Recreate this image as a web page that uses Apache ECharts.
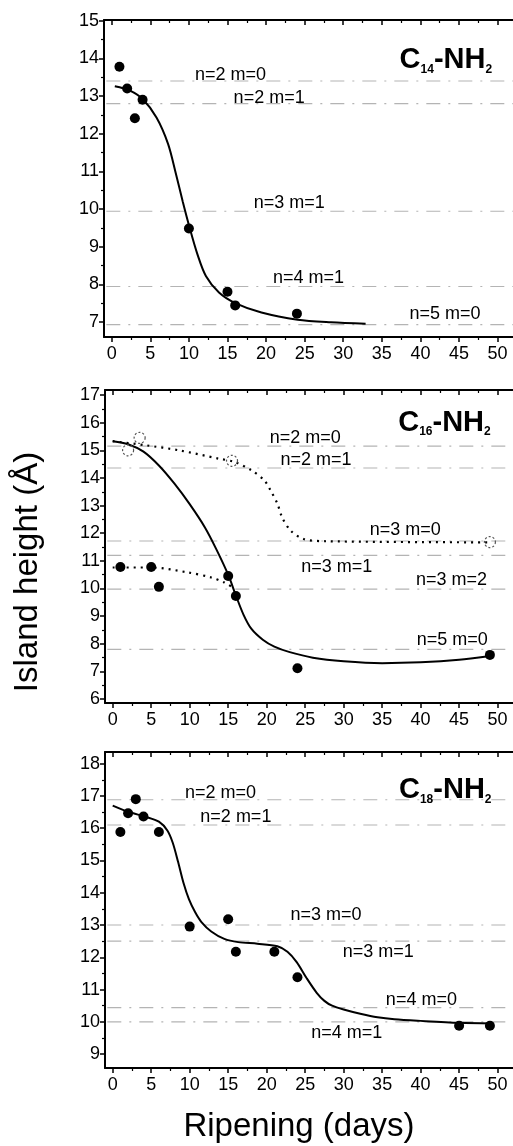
<!DOCTYPE html>
<html><head><meta charset="utf-8">
<script src="https://cdn.jsdelivr.net/npm/echarts@6/dist/echarts.min.js"></script>
<style>html,body{margin:0;padding:0;background:#fff}#c{width:513px;height:1146px}</style>
</head><body><div id="c"></div>
<script>
// ---------------- DATA ----------------
const xTickValues = [0,5,10,15,20,25,30,35,40,45,50];
const xMinorValues = [2.5,7.5,12.5,17.5,22.5,27.5,32.5,37.5,42.5,47.5];

// Panel 1 : C14-NH2
const p1Ticks = [7,8,9,10,11,12,13,14,15];
const p1Points = [[1,13.78],[2,13.2],[3,12.41],[4,12.9],[10,9.48],[15,7.8],[16,7.44],[24,7.22]];
const p1Fit = [[0.4,13.26],[2.3,13.15],[4,12.92],[5.8,12.43],[7.3,11.73],[8.3,10.95],[9.2,10.2],[10.1,9.5],[11.1,8.8],[12.2,8.22],[13.9,7.78],[16,7.5],[19.4,7.25],[24.1,7.06],[28.4,6.99],[32.9,6.95]];
const p1Levels = [13.4,12.8,9.94,7.94,6.93];
const p1LevelNames = ['n=2 m=0','n=2 m=1','n=3 m=1','n=4 m=1','n=5 m=0'];

// Panel 2 : C16-NH2
const p2Ticks = [6,7,8,9,10,11,12,13,14,15,16,17];
const p2Points = [[1,10.78],[5,10.78],[6,10.06],[15,10.45],[16,9.73],[24,7.12],[49,7.6]];
const p2Open = [[2,15.0],[3.5,15.45],[15.5,14.62],[49,11.68]];
const p2Fit = [[0,15.33],[2,15.22],[4,14.95],[6,14.45],[8,13.8],[10,13.05],[12,12.2],[13.5,11.4],[15,10.5],[16,9.75],[17,9.05],[18,8.55],[19.5,8.15],[21,7.9],[23,7.7],[26,7.5],[30,7.37],[35,7.3],[40,7.33],[45,7.42],[48.8,7.55]];
const p2FitUpper = [[0,15.33],[4.3,15.18],[8.6,15.0],[13.7,14.7],[15.8,14.58],[18,14.28],[19.7,13.91],[20.5,13.55],[21.4,13.07],[22,12.58],[23.1,12.1],[24.8,11.79],[27.8,11.71],[48.7,11.67]];
const p2FitLower = [[0,10.76],[5,10.76],[9.8,10.58],[12.8,10.4],[14.5,10.22],[15.6,10.04]];
const p2Levels = [15.15,14.36,11.72,11.2,9.98,7.8];
const p2LevelNames = ['n=2 m=0','n=2 m=1','n=3 m=0','n=3 m=1','n=3 m=2','n=5 m=0'];

// Panel 3 : C18-NH2
const p3Ticks = [9,10,11,12,13,14,15,16,17,18];
const p3Points = [[1,15.88],[2,16.46],[3,16.9],[4,16.36],[6,15.88],[10,12.95],[15,13.18],[16,12.17],[21,12.17],[24,11.38],[45,9.88],[49,9.88]];
const p3Fit = [[0,16.7],[2.1,16.5],[4.3,16.35],[6,16.2],[7.1,15.93],[7.8,15.55],[8.5,14.95],[9.2,14.3],[9.9,13.8],[10.7,13.4],[11.5,13.1],[12.8,12.8],[14.5,12.57],[16.3,12.47],[18.8,12.42],[21.4,12.34],[22.7,12.17],[23.9,11.85],[25.2,11.35],[26.5,10.9],[27.5,10.65],[28.5,10.5],[30,10.38],[32.3,10.24],[34.4,10.14],[36.6,10.08],[40,10.03],[45,9.97],[49.3,9.95]];
const p3Levels = [16.88,16.1,13.0,12.5,10.44,10.0];
const p3LevelNames = ['n=2 m=0','n=2 m=1','n=3 m=0','n=3 m=1','n=4 m=0','n=4 m=1'];

const panelTitles = [['14','2'],['16','2'],['18','2']];
const yTitle = 'Island height (Å)';
const xTitle = 'Ripening (days)';

// ---------------- LAYOUT ----------------
const FONT = '"Liberation Sans", Arial, Helvetica, sans-serif';
const X_MIN = -1, X_MAX = 52;
const panels = [
  {grid:{left:104, top:20, width:415, height:317}, yMin:6.6, yMax:15.02, ticks:p1Ticks,
   points:p1Points, fits:[{d:p1Fit,dot:false}], open:null, levels:p1Levels, names:p1LevelNames,
   labelPos:[[15.4,13.56],[20.4,12.94],[23.0,10.15],[25.5,8.16],[43.2,7.22]], titlePos:[43.3,13.95]},
  {grid:{left:105, top:390, width:414, height:313}, yMin:5.86, yMax:17.18, ticks:p2Ticks,
   points:p2Points, fits:[{d:p2Fit,dot:false},{d:p2FitUpper,dot:true},{d:p2FitLower,dot:true}], open:p2Open, levels:p2Levels, names:p2LevelNames,
   labelPos:[[25.0,15.45],[26.4,14.65],[38.0,12.12],[29.1,10.78],[44.0,10.31],[44.1,8.15]], titlePos:[43.1,15.99]},
  {grid:{left:105, top:752, width:414, height:316}, yMin:8.57, yMax:18.36, ticks:p3Ticks,
   points:p3Points, fits:[{d:p3Fit,dot:false}], open:null, levels:p3Levels, names:p3LevelNames,
   labelPos:[[14.0,17.08],[16.0,16.34],[27.7,13.30],[34.5,12.16],[40.1,10.67],[30.4,9.65]], titlePos:[43.2,17.17]}
];

const grids=[], xAxes=[], yAxes=[], series=[];
panels.forEach((p,i)=>{
  grids.push(p.grid);
  const xi = xAxes.length, yi = yAxes.length;
  const base = {gridIndex:i, type:'value', min:X_MIN, max:X_MAX, splitLine:{show:false}};
  xAxes.push(Object.assign({}, base, {position:'bottom',
    axisLine:{show:true, onZero:false, lineStyle:{color:'#000', width:2}},
    axisTick:{show:true, inside:false, length:5, customValues:xTickValues, lineStyle:{color:'#000', width:1.5}},
    axisLabel:{show:true, customValues:xTickValues, fontSize:18, color:'#000', fontFamily:FONT, margin:8}}));
  xAxes.push(Object.assign({}, base, {position:'bottom',
    axisLine:{show:false, onZero:false},
    axisTick:{show:true, inside:false, length:3, customValues:xMinorValues, lineStyle:{color:'#000', width:1.2}},
    axisLabel:{show:false}}));
  xAxes.push(Object.assign({}, base, {position:'top',
    axisLine:{show:true, onZero:false, lineStyle:{color:'#000', width:1.8}},
    axisTick:{show:true, inside:true, length:5, customValues:xTickValues, lineStyle:{color:'#000', width:1.5}},
    axisLabel:{show:false}}));
  xAxes.push(Object.assign({}, base, {position:'top',
    axisLine:{show:false, onZero:false},
    axisTick:{show:true, inside:true, length:3, customValues:xMinorValues, lineStyle:{color:'#000', width:1.2}},
    axisLabel:{show:false}}));
  const halves = p.ticks.slice(0,-1).map(v=>v+0.5);
  if (p.yMin < p.ticks[0]-0.5) halves.unshift(p.ticks[0]-0.5);
  if (p.yMax > p.ticks[p.ticks.length-1]+0.5) halves.push(p.ticks[p.ticks.length-1]+0.5);
  const ybase = {gridIndex:i, type:'value', min:p.yMin, max:p.yMax, splitLine:{show:false}, position:'left'};
  yAxes.push(Object.assign({}, ybase, {
    axisLine:{show:true, onZero:false, lineStyle:{color:'#000', width:2}},
    axisTick:{show:true, inside:false, length:5, customValues:p.ticks, lineStyle:{color:'#000', width:1.5}},
    axisLabel:{show:true, customValues:p.ticks, fontSize:18, color:'#000', fontFamily:FONT, margin:5}}));
  yAxes.push(Object.assign({}, ybase, {
    axisLine:{show:false, onZero:false},
    axisTick:{show:true, inside:false, length:3, customValues:halves, lineStyle:{color:'#000', width:1.2}},
    axisLabel:{show:false}}));

  // level reference lines
  p.levels.forEach(v=>{
    series.push({type:'line', xAxisIndex:xi, yAxisIndex:yi, data:[[X_MIN+0.3,v],[X_MAX,v]], symbol:'none', silent:true,
      lineStyle:{color:'#b4b4b4', width:1.1, type:[14,8,2,8]}, z:1});
  });
  // fit curves
  p.fits.forEach(f=>{
    series.push({type:'line', xAxisIndex:xi, yAxisIndex:yi, data:f.d, symbol:'none', smooth:0.3, clip:false,
      lineStyle:{color:'#000', width:f.dot?2.2:2, type:f.dot?[2,5]:'solid'}, z:3});
  });
  // open points
  if (p.open) series.push({type:'scatter', xAxisIndex:xi, yAxisIndex:yi, data:p.open, symbol:'circle', symbolSize:11,
      itemStyle:{color:'rgba(255,255,255,0)', borderColor:'#555', borderWidth:1.2, borderType:[2,2], opacity:1}, z:4});
  // filled points
  series.push({type:'scatter', xAxisIndex:xi, yAxisIndex:yi, data:p.points, symbol:'circle', symbolSize:10,
      itemStyle:{color:'#000', opacity:1}, z:5});
  // level labels
  series.push({type:'scatter', xAxisIndex:xi, yAxisIndex:yi, symbolSize:0, silent:true, z:6,
    itemStyle:{opacity:1},
    data:p.names.map((n,k)=>({name:n, value:p.labelPos[k]})),
    label:{show:true, position:[0,0], align:'center', verticalAlign:'middle', formatter:'{b}', fontSize:18, color:'#000', fontFamily:FONT}});
  // title
  const t = panelTitles[i];
  series.push({type:'scatter', xAxisIndex:xi, yAxisIndex:yi, symbolSize:0, silent:true, z:6,
    itemStyle:{opacity:1},
    data:[{name:'t', value:p.titlePos}],
    label:{show:true, position:[0,0], align:'center', verticalAlign:'middle',
      formatter:'{b|C}{s|'+t[0]+'}{b|-NH}{s|'+t[1]+'}',
      rich:{b:{fontSize:29, fontWeight:'bold', fontFamily:FONT, color:'#000', lineHeight:30},
            s:{fontSize:12, fontWeight:'bold', fontFamily:FONT, color:'#000', lineHeight:11, verticalAlign:'bottom'}}}});
});

const chart = echarts.init(document.getElementById('c'), null, {renderer:'canvas'});
chart.setOption({
  animation:false,
  backgroundColor:'#fff',
  grid:grids, xAxis:xAxes, yAxis:yAxes, series:series,
  graphic:[
    {type:'text', x:28, y:572, rotation:Math.PI/2, style:{text:yTitle, font:'33px '+FONT, fill:'#000', textAlign:'center', textVerticalAlign:'middle'}},
    {type:'text', x:299, y:1127, style:{text:xTitle, font:'33px '+FONT, fill:'#000', textAlign:'center', textVerticalAlign:'middle'}}
  ]
});
</script></body></html>
